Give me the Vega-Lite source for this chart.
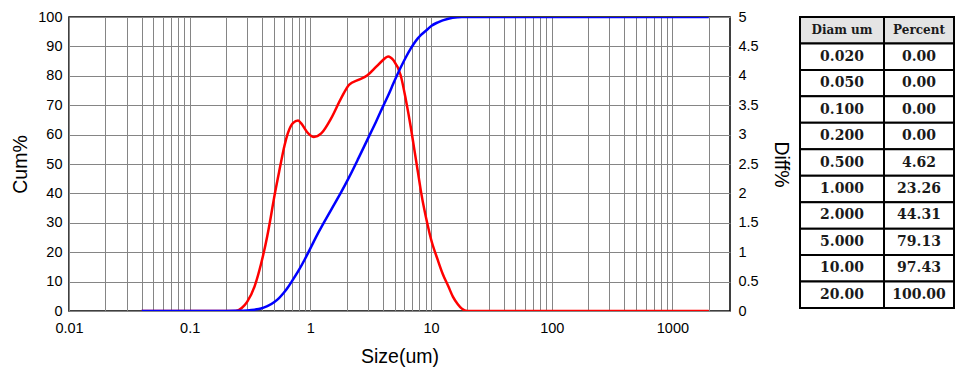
{
  "$schema": "https://vega.github.io/schema/vega-lite/v6.json",
  "background": "white",
  "padding": {"left": 10, "top": 8, "right": 0, "bottom": 0},
  "config": {
    "view": {"stroke": "#000000", "strokeWidth": 1.5},
    "font": "Liberation Sans"
  },
  "datasets": {
    "cumdata": [
      {"size": 0.04, "cum": 0},
      {"size": 0.1, "cum": 0},
      {"size": 0.2, "cum": 0},
      {"size": 0.24, "cum": 0.05},
      {"size": 0.3, "cum": 0.2},
      {"size": 0.345, "cum": 0.45},
      {"size": 0.39, "cum": 0.85},
      {"size": 0.44, "cum": 1.65},
      {"size": 0.5, "cum": 3.0},
      {"size": 0.55, "cum": 4.4},
      {"size": 0.6, "cum": 6.1},
      {"size": 0.65, "cum": 8.0},
      {"size": 0.7, "cum": 10.0},
      {"size": 0.8, "cum": 13.8},
      {"size": 0.9, "cum": 17.6},
      {"size": 1.0, "cum": 21.3},
      {"size": 1.17, "cum": 26.8},
      {"size": 1.49, "cum": 34.5},
      {"size": 1.8, "cum": 40.4},
      {"size": 2.1, "cum": 45.6},
      {"size": 2.5, "cum": 51.9},
      {"size": 2.97, "cum": 58.3},
      {"size": 3.5, "cum": 64.4},
      {"size": 4.0, "cum": 69.6},
      {"size": 4.4, "cum": 73.2},
      {"size": 4.9, "cum": 77.6},
      {"size": 5.6, "cum": 82.8},
      {"size": 6.2, "cum": 86.4},
      {"size": 6.8, "cum": 89.3},
      {"size": 7.2, "cum": 90.9},
      {"size": 7.8, "cum": 92.8},
      {"size": 8.3, "cum": 94.0},
      {"size": 9.4, "cum": 95.9},
      {"size": 10, "cum": 96.9},
      {"size": 11.4, "cum": 98.2},
      {"size": 13.9, "cum": 99.4},
      {"size": 16.6, "cum": 99.9},
      {"size": 18, "cum": 100},
      {"size": 20, "cum": 100},
      {"size": 100, "cum": 100},
      {"size": 2000, "cum": 100}
    ],
    "diffdata": [
      {"size": 0.04, "diff": 0},
      {"size": 0.1, "diff": 0},
      {"size": 0.2, "diff": 0},
      {"size": 0.24, "diff": 0.0},
      {"size": 0.27, "diff": 0.05},
      {"size": 0.3, "diff": 0.16},
      {"size": 0.345, "diff": 0.42},
      {"size": 0.39, "diff": 0.8},
      {"size": 0.44, "diff": 1.28},
      {"size": 0.47, "diff": 1.6},
      {"size": 0.5, "diff": 1.92},
      {"size": 0.55, "diff": 2.36},
      {"size": 0.58, "diff": 2.6},
      {"size": 0.61, "diff": 2.81},
      {"size": 0.65, "diff": 3.02},
      {"size": 0.72, "diff": 3.2},
      {"size": 0.79, "diff": 3.24},
      {"size": 0.84, "diff": 3.19},
      {"size": 0.96, "diff": 3.02},
      {"size": 1.07, "diff": 2.96},
      {"size": 1.23, "diff": 3.02},
      {"size": 1.49, "diff": 3.28},
      {"size": 1.8, "diff": 3.62},
      {"size": 2.1, "diff": 3.85},
      {"size": 2.5, "diff": 3.93},
      {"size": 2.97, "diff": 4.01},
      {"size": 3.5, "diff": 4.15},
      {"size": 4.0, "diff": 4.27},
      {"size": 4.4, "diff": 4.33},
      {"size": 4.9, "diff": 4.26},
      {"size": 5.6, "diff": 4.01},
      {"size": 6.2, "diff": 3.58},
      {"size": 6.8, "diff": 3.12},
      {"size": 7.2, "diff": 2.8},
      {"size": 7.8, "diff": 2.35},
      {"size": 8.3, "diff": 2.0},
      {"size": 9.4, "diff": 1.45},
      {"size": 10, "diff": 1.22},
      {"size": 11.4, "diff": 0.86},
      {"size": 12.5, "diff": 0.63},
      {"size": 13.9, "diff": 0.42},
      {"size": 15.2, "diff": 0.24},
      {"size": 16.6, "diff": 0.12},
      {"size": 18, "diff": 0.04},
      {"size": 20, "diff": 0},
      {"size": 100, "diff": 0},
      {"size": 2000, "diff": 0}
    ],
    "table": [
      {"diam": "Diam um", "pct": "Percent"},
      {"diam": "0.020", "pct": "0.00"},
      {"diam": "0.050", "pct": "0.00"},
      {"diam": "0.100", "pct": "0.00"},
      {"diam": "0.200", "pct": "0.00"},
      {"diam": "0.500", "pct": "4.62"},
      {"diam": "1.000", "pct": "23.26"},
      {"diam": "2.000", "pct": "44.31"},
      {"diam": "5.000", "pct": "79.13"},
      {"diam": "10.00", "pct": "97.43"},
      {"diam": "20.00", "pct": "100.00"}
    ]
  },
  "hconcat": [
    {
      "width": 661,
      "height": 294,
      "encoding": {
        "x": {
          "field": "size",
          "type": "quantitative",
          "scale": {"type": "log", "domain": [0.01, 3000], "nice": false},
          "axis": {
            "title": "Size(um)",
            "values": [0.01,0.02,0.03,0.04,0.05,0.06,0.07,0.08,0.09,0.1,0.2,0.3,0.4,0.5,0.6,0.7,0.8,0.9,1,2,3,4,5,6,7,8,9,10,20,30,40,50,60,70,80,90,100,200,300,400,500,600,700,800,900,1000,2000],
            "format": "~g",
            "labelExpr": "indexof(['0.01','0.1','1','10','100','1000'], datum.label) >= 0 ? datum.label : ''",
            "ticks": false,
            "domain": false,
            "grid": true,
            "gridColor": "#858585",
            "gridOpacity": 1,
            "gridWidth": 1,
            "labelFont": "Liberation Sans",
            "labelFontSize": 14.5,
            "labelColor": "#000",
            "labelPadding": 10,
            "labelFlush": false,
            "labelOverlap": false,
            "titleFont": "Liberation Sans",
            "titleFontSize": 19.5,
            "titleFontWeight": "normal",
            "titleColor": "#000",
            "titlePadding": 13
          }
        }
      },
      "layer": [
        {
          "data": {"name": "diffdata"},
          "mark": {"type": "line", "color": "#ff0000", "strokeWidth": 2.5, "interpolate": "monotone", "clip": true},
          "encoding": {
            "y": {
              "field": "diff",
              "type": "quantitative",
              "scale": {"domain": [0, 5], "nice": false},
              "axis": {
                "orient": "right",
                "title": "Diff%",
                "values": [0,0.5,1,1.5,2,2.5,3,3.5,4,4.5,5],
                "format": "~g",
                "grid": false,
                "ticks": false,
                "domain": false,
                "labelFont": "Liberation Sans",
                "labelFontSize": 14.5,
                "labelColor": "#000",
                "labelPadding": 8,
                "titleFont": "Liberation Sans",
                "titleFontSize": 19.5,
                "titleFontWeight": "normal",
                "titleColor": "#000",
                "titlePadding": 12
              }
            }
          }
        },
        {
          "data": {"name": "cumdata"},
          "mark": {"type": "line", "color": "#0000ff", "strokeWidth": 2.5, "interpolate": "monotone", "clip": true},
          "encoding": {
            "y": {
              "field": "cum",
              "type": "quantitative",
              "scale": {"domain": [0, 100], "nice": false},
              "axis": {
                "orient": "left",
                "title": "Cum%",
                "values": [0,10,20,30,40,50,60,70,80,90,100],
                "grid": true,
                "gridColor": "#858585",
                "gridOpacity": 1,
                "gridWidth": 1,
                "ticks": false,
                "domain": false,
                "labelFont": "Liberation Sans",
                "labelFontSize": 14.5,
                "labelColor": "#000",
                "labelPadding": 7,
                "titleFont": "Liberation Sans",
                "titleFontSize": 19.5,
                "titleFontWeight": "normal",
                "titleColor": "#000",
                "titlePadding": 7
              }
            }
          }
        }
      ],
      "resolve": {"scale": {"y": "independent"}}
    },
    {
      "spacing": 0,
      "bounds": "flush",
      "hconcat": [
        {
          "width": 84,
          "height": 291,
          "data": {"name": "table"},
          "encoding": {
            "y": {"field": "diam", "type": "ordinal", "sort": null, "axis": null, "scale": {"paddingInner": 0, "paddingOuter": 0}}
          },
          "layer": [
            {
              "mark": {"type": "rect", "stroke": "#000", "strokeWidth": 2},
              "encoding": {
                "x": {"value": 0},
                "x2": {"value": "width"},
                "fill": {"condition": {"test": "datum.diam === 'Diam um'", "value": "#e4e4e4"}, "value": "#ffffff"}
              }
            },
            {
              "mark": {"type": "text", "font": "DejaVu Serif", "fontWeight": "bold", "color": "#1a1a1a"},
              "encoding": {
                "text": {"field": "diam"},
                "size": {"condition": {"test": "datum.diam === 'Diam um'", "value": 12}, "value": 14}
              }
            }
          ]
        },
        {
          "width": 70,
          "height": 291,
          "data": {"name": "table"},
          "encoding": {
            "y": {"field": "diam", "type": "ordinal", "sort": null, "axis": null, "scale": {"paddingInner": 0, "paddingOuter": 0}}
          },
          "layer": [
            {
              "mark": {"type": "rect", "stroke": "#000", "strokeWidth": 2},
              "encoding": {
                "x": {"value": 0},
                "x2": {"value": "width"},
                "fill": {"condition": {"test": "datum.diam === 'Diam um'", "value": "#e4e4e4"}, "value": "#ffffff"}
              }
            },
            {
              "mark": {"type": "text", "font": "DejaVu Serif", "fontWeight": "bold", "color": "#1a1a1a"},
              "encoding": {
                "text": {"field": "pct"},
                "size": {"condition": {"test": "datum.diam === 'Diam um'", "value": 12}, "value": 14}
              }
            }
          ]
        }
      ]
    }
  ],
  "spacing": 70,
  "bounds": "flush"
}
